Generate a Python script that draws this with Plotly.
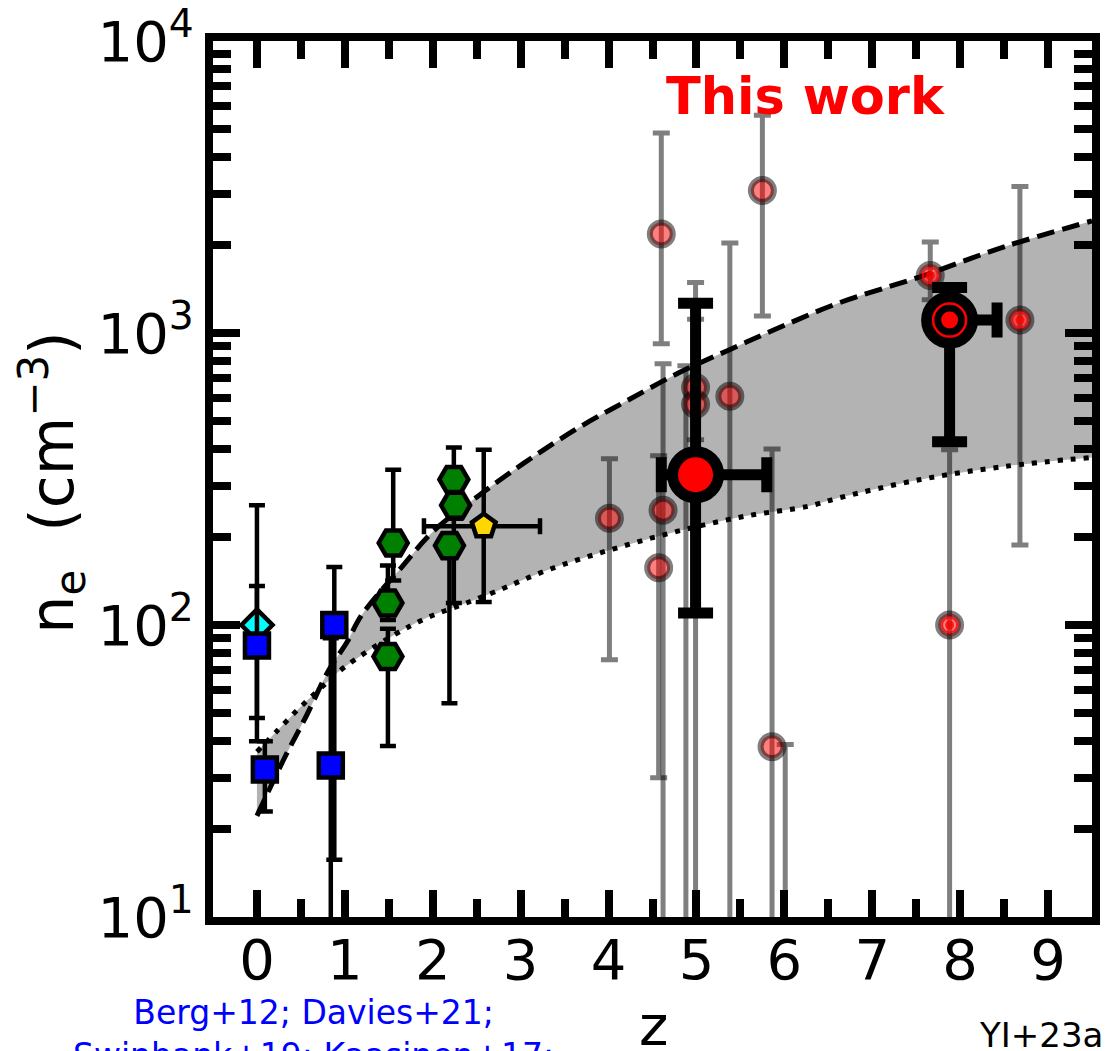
import plotly.graph_objects as go

# ---------------- data ----------------
# model envelope (upper: dashed, lower: dotted)
env_hi_z = [0.0, 0.31, 0.56, 0.82, 1.02, 1.19, 1.64, 2.01, 2.54, 3.11, 3.71, 4.24, 4.80, 5.37, 5.93, 6.61, 7.55, 8.50, 9.50]
env_hi_ne = [22.2, 34.9, 48.7, 70.3, 86.9, 108, 157, 210, 280, 371, 484, 593, 731, 875, 1040, 1264, 1561, 1973, 2420]
env_lo_z = [0.0, 0.23, 0.47, 0.71, 0.99, 1.56, 1.94, 2.32, 2.71, 3.30, 4.05, 4.80, 5.56, 6.27, 6.61, 7.55, 8.50, 9.50]
env_lo_ne = [36.8, 43.4, 51.5, 60.2, 71.5, 92.5, 106, 117, 130, 154, 182, 210, 236, 255, 272, 315, 349, 375]

# local / z~1 samples (blue squares)
sq_z = [0.0, 0.09, 0.88, 0.84]
sq_ne = [85, 32, 100, 33]
sq_lo = [48, 23, 15.7, 3]
sq_hi = [136, 40, 158, 90]

# local sample (cyan diamond)
dia_z = [0.0]
dia_ne = [100]
dia_lo = [40]
dia_hi = [257]

# cosmic-noon samples (green hexagons)
hex_z = [1.55, 1.49, 1.49, 2.24, 2.26, 2.19]
hex_ne = [191, 119, 78, 315, 257, 187]
hex_lo = [142, 104, 38.5, 119, 231, 54]
hex_hi = [340, 160, 97, 405, 290, 199]

# stacked z~2.6 measurement (gold pentagon)
pen_z = [2.58]
pen_ne = [218]
pen_lo = [120]
pen_hi = [398]
pen_zlo = [1.90]
pen_zhi = [3.22]

# JWST individual galaxies (faded circles)
ind_z = [4.01, 4.60, 4.62, 4.57, 4.88, 4.99, 4.99, 5.38, 5.75, 5.86, 6.01]
ind_ne = [232, 2183, 247, 157, 320, 651, 570, 607, 3076, 38.3, 8]
ind_lo = [76, 918, 3, 30, 3, 431, 3, 3, 1144, 3, 3]
ind_hi = [371, 4840, 785, 380, 773, 1489, 1114, 2032, 5570, 401, 39]

# z~8 individual galaxies (faded ringed circles)
ring_z = [7.66, 8.68, 7.88]
ring_ne = [1574, 1107, 100]
ring_lo = [1300, 188, 3]
ring_hi = [2050, 3177, 398]

# this work: stacks at z~5 and z~8
tw5_z = [4.99]
tw5_ne = [327]
tw5_lo = [110]
tw5_hi = [1265]
tw5_zlo = [4.60]
tw5_zhi = [5.80]

tw8_z = [7.88]
tw8_ne = [1107]
tw8_lo = [424]
tw8_hi = [1432]
tw8_zlo = [7.88]
tw8_zhi = [8.42]

y_tickvals = [10, 100, 1000, 10000]
y_ticktext = ["10<sup>1</sup>", "10<sup>2</sup>", "10<sup>3</sup>", "10<sup>4</sup>"]
y_minor = [m * 10 ** k for k in (1, 2, 3) for m in range(2, 10)]
x_tickvals = list(range(10))

FONT = "DejaVu Sans"
FADE_EDGE = "rgba(0,0,0,0.5)"
FADE_FILL = "rgba(255,0,0,0.5)"


def err(v, lo, hi, color, thick, width):
    return dict(type="data", symmetric=False,
                array=[h - c for c, h in zip(v, hi)],
                arrayminus=[c - l for c, l in zip(v, lo)],
                color=color, thickness=thick, width=width)


fig = go.Figure()

# shaded envelope between the two model curves
fig.add_trace(go.Scatter(x=env_hi_z, y=env_hi_ne, mode="lines", line_shape="spline",
                         line=dict(color="black", width=5, dash="18px,8px"),
                         hoverinfo="skip", showlegend=False))
fig.add_trace(go.Scatter(x=env_lo_z, y=env_lo_ne, mode="lines", line_shape="spline",
                         line=dict(color="black", width=5, dash="5px,8px"),
                         fill="tonexty", fillcolor="#b3b3b3",
                         hoverinfo="skip", showlegend=False))

# literature, low redshift
fig.add_trace(go.Scatter(x=dia_z, y=dia_ne, mode="markers",
                         error_y=err(dia_ne, dia_lo, dia_hi, "black", 4.5, 8),
                         marker=dict(symbol="diamond", size=24, color="#00ffff",
                                     line=dict(color="black", width=4.5)),
                         showlegend=False))
fig.add_trace(go.Scatter(x=sq_z, y=sq_ne, mode="markers",
                         error_y=err(sq_ne, sq_lo, sq_hi, "black", 4.5, 8),
                         marker=dict(symbol="square", size=24, color="#0000ff",
                                     line=dict(color="black", width=4.5)),
                         showlegend=False))
fig.add_trace(go.Scatter(x=hex_z, y=hex_ne, mode="markers",
                         error_y=err(hex_ne, hex_lo, hex_hi, "black", 4.5, 8),
                         marker=dict(symbol="hexagon2", size=29, color="#008000",
                                     line=dict(color="black", width=4.5)),
                         showlegend=False))
fig.add_trace(go.Scatter(x=pen_z, y=pen_ne, mode="markers",
                         error_y=err(pen_ne, pen_lo, pen_hi, "black", 4.5, 8),
                         error_x=err(pen_z, pen_zlo, pen_zhi, "black", 4.5, 8),
                         marker=dict(symbol="pentagon", size=25, color="#ffd700",
                                     line=dict(color="black", width=4.5)),
                         showlegend=False))

# literature, high redshift (faded)
fig.add_trace(go.Scatter(x=ind_z, y=ind_ne, mode="markers",
                         error_y=err(ind_ne, ind_lo, ind_hi, FADE_EDGE, 5, 8.5),
                         marker=dict(symbol="circle", size=23, color=FADE_FILL,
                                     line=dict(color=FADE_EDGE, width=6)),
                         showlegend=False))
fig.add_trace(go.Scatter(x=ring_z, y=ring_ne, mode="markers",
                         error_y=err(ring_ne, ring_lo, ring_hi, FADE_EDGE, 5, 8.5),
                         marker=dict(symbol="circle", size=23, color=FADE_FILL,
                                     line=dict(color=FADE_EDGE, width=6)),
                         showlegend=False))
fig.add_trace(go.Scatter(x=ring_z, y=ring_ne, mode="markers",
                         marker=dict(symbol="circle-open", size=15, color="rgba(255,0,0,0.8)",
                                     line=dict(width=2)),
                         hoverinfo="skip", showlegend=False))
fig.add_trace(go.Scatter(x=ring_z, y=ring_ne, mode="markers",
                         marker=dict(symbol="circle", size=9, color="rgba(255,0,0,0.8)",
                                     line=dict(width=0)),
                         hoverinfo="skip", showlegend=False))

# this work
fig.add_trace(go.Scatter(x=tw5_z, y=tw5_ne, mode="markers",
                         error_y=err(tw5_ne, tw5_lo, tw5_hi, "black", 11, 17.5),
                         error_x=err(tw5_z, tw5_zlo, tw5_zhi, "black", 11, 17.5),
                         marker=dict(symbol="circle", size=46, color="#ff0000",
                                     line=dict(color="black", width=11)),
                         showlegend=False))
fig.add_trace(go.Scatter(x=tw8_z, y=tw8_ne, mode="markers",
                         error_y=err(tw8_ne, tw8_lo, tw8_hi, "black", 11, 17.5),
                         error_x=err(tw8_z, tw8_zlo, tw8_zhi, "black", 11, 17.5),
                         marker=dict(symbol="circle", size=46, color="black",
                                     line=dict(color="black", width=11)),
                         showlegend=False))
fig.add_trace(go.Scatter(x=tw8_z, y=tw8_ne, mode="markers",
                         marker=dict(symbol="circle-open", size=33, color="#ff0000",
                                     line=dict(width=2.5)),
                         hoverinfo="skip", showlegend=False))
fig.add_trace(go.Scatter(x=tw8_z, y=tw8_ne, mode="markers",
                         marker=dict(symbol="circle", size=17, color="#ff0000",
                                     line=dict(width=0)),
                         hoverinfo="skip", showlegend=False))

axis_common = dict(showline=True, linewidth=8, linecolor="black", mirror="ticks",
                   ticks="inside", ticklen=27, tickwidth=8, tickcolor="black",
                   showgrid=False, zeroline=False, automargin=False,
                   tickfont=dict(family=FONT, size=56, color="black"))

fig.update_xaxes(range=[-0.5, 9.5], tickvals=x_tickvals, ticklabelstandoff=-13,
                 minor=dict(ticks="inside", dtick=0.5, tick0=0, ticklen=18,
                            tickwidth=8, tickcolor="black", showgrid=False),
                 **axis_common)
fig.update_yaxes(type="log", range=[1, 4], tickvals=y_tickvals, ticktext=y_ticktext,
                 minor=dict(ticks="inside", tickvals=y_minor, ticklen=18,
                            tickwidth=8, tickcolor="black", showgrid=False),
                 **axis_common)


def note(text, x, y, size, color, yanchor="middle", **extra):
    fig.add_annotation(text=text, x=x, y=y, xref="paper", yref="paper",
                       showarrow=False, xanchor="center", yanchor=yanchor,
                       font=dict(family=FONT, size=size, color=color, **extra.pop("font", {})),
                       **extra)


note("This work", 0.6735, 0.937, 51, "#ff0000", font={"weight": "bold"})
note("n<sub>e</sub>\u00a0 (cm<sup>\u22123</sup>)", -0.183, 0.496, 60, "black", textangle=-90)
note("z", 0.5006, -0.1233, 56, "black")
note("Berg+12; Davies+21;<br>Swinbank+19; Kaasinen+17;", 0.1138, -0.0845, 33, "#0000ff",
     yanchor="top")
note("YI+23a", 0.942, -0.135, 34, "black")

fig.update_layout(width=1107, height=1051,
                  margin=dict(l=213, r=15, t=41, b=134),
                  paper_bgcolor="white", plot_bgcolor="white",
                  font=dict(family=FONT))

fig.write_html("out.html")
